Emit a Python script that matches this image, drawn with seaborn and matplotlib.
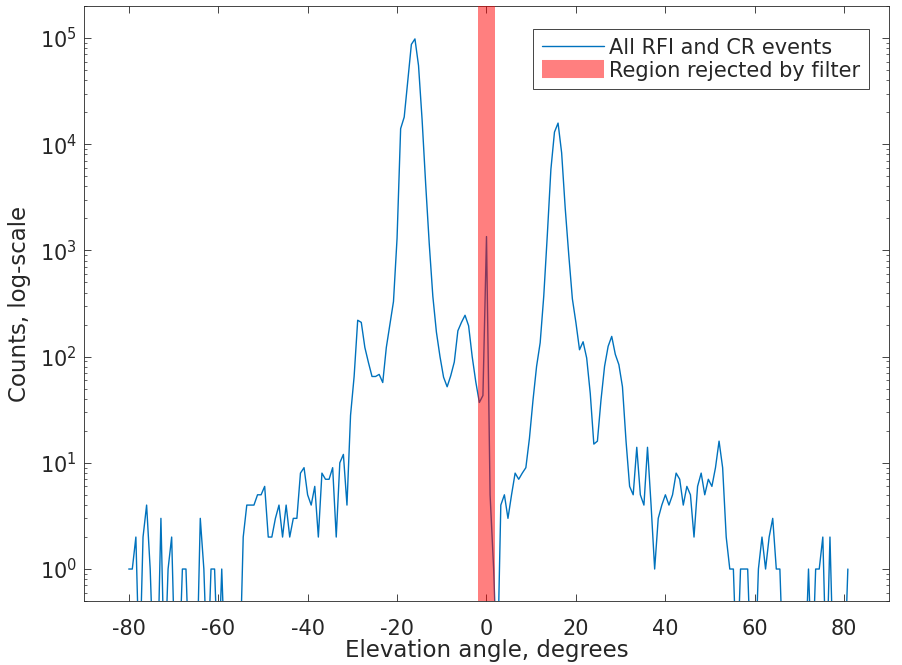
import numpy as np
import pandas as pd
import matplotlib
matplotlib.use("Agg")
import matplotlib.pyplot as plt
from matplotlib.lines import Line2D
import seaborn as sns

# elevation histogram: 0.8 degree bins, first bin at -80 degrees
angle_start = -80.0
angle_step = 0.8
counts = [
    1, 1, 2, 0, 2, 4, 1, 0, 0, 3,
    0, 1, 2, 0, 0, 1, 1, 0, 0, 0,
    3, 1, 0, 1, 1, 0, 1, 0, 0, 0,
    0, 0, 2, 4, 4, 4, 5, 5, 6, 2,
    2, 3, 4, 2, 4, 2, 3, 3, 8, 9,
    5, 4, 6, 2, 8, 7, 7, 9, 2, 10,
    12, 4, 28, 65, 220, 210, 122, 88, 65, 65,
    68, 57, 122, 200, 330, 1300, 14000, 18000, 40000, 87000,
    98000, 55000, 17000, 4200, 1150, 370, 170, 100, 64, 52,
    66, 89, 175, 210, 245, 195, 100, 58, 37, 43,
    1350, 5, 1, 0, 4, 5, 3, 5, 8, 7,
    8, 9, 17, 39, 81, 135, 370, 1400, 5800, 13000,
    15800, 8300, 2500, 900, 350, 208, 116, 138, 97, 45,
    15, 16, 39, 81, 125, 155, 105, 84, 52, 16,
    6, 5, 14, 5, 4, 14, 4, 1, 3, 4,
    5, 4, 5, 8, 7, 4, 6, 5, 2, 6,
    8, 5, 7, 6, 9, 16, 9, 2, 1, 1,
    0, 1, 1, 1, 0, 0, 1, 2, 1, 2,
    3, 1, 1, 0, 0, 0, 0, 0, 0, 0,
    1, 0, 1, 1, 2, 0, 2, 0, 0, 0,
    0, 1,
]
reject_lo, reject_hi = -2, 2
x_ticks = [-80, -60, -40, -20, 0, 20, 40, 60, 80]

line_label = "All RFI and CR events"
band_label = "Region rejected by filter"

df = pd.DataFrame({
    "angle": angle_start + angle_step * np.arange(len(counts)),
    "counts": counts,
})
# empty bins sit below the visible range of the log axis
df["shown"] = df["counts"].where(df["counts"] > 0, 0.1)

sns.set_style("ticks")
plt.rcParams["font.family"] = ["DejaVu Sans"]
plt.rcParams["axes.unicode_minus"] = False

text_col = "#262626"
fig = plt.figure(figsize=(9.03, 6.65), dpi=100)
ax = fig.add_axes([84 / 903, 1 - 601 / 665, (889 - 84) / 903, (601 - 6) / 665])

sns.lineplot(data=df, x="angle", y="shown", ax=ax, color="#0072BD",
             linewidth=1.0, errorbar=None, legend=False)
ax.axvspan(reject_lo, reject_hi, color="red", alpha=0.5, lw=0, zorder=3)

ax.set_yscale("log")
ax.set_xlim(-90, 90)
ax.set_ylim(0.5, 2.0e5)
ax.set_xticks(x_ticks)
ax.set_xticklabels([str(t) for t in x_ticks])

ax.set_xlabel("Elevation angle, degrees", fontsize=16.5, color=text_col)
ax.set_ylabel("Counts, log-scale", fontsize=16.5, color=text_col)
ax.xaxis.set_label_coords(0.5, -0.064)
ax.yaxis.set_label_coords(-0.066, 0.5)
ax.tick_params(axis="both", which="major", direction="in", length=5, width=0.6,
               labelsize=15, colors=text_col, top=True, right=True)
ax.tick_params(axis="x", which="major", pad=13)
ax.tick_params(axis="y", which="major", pad=5)
ax.tick_params(axis="y", which="minor", direction="in", length=2.5, width=0.5,
               right=True)
ax.tick_params(axis="x", which="minor", bottom=False, top=False)
for s in ax.spines.values():
    s.set_linewidth(0.6)
    s.set_color(text_col)
    s.set_visible(True)

handles = [
    Line2D([], [], color="#0072BD", lw=1.0),
    Line2D([], [], color="red", alpha=0.5, lw=13, solid_capstyle="butt"),
]
leg = ax.legend(handles, [line_label, band_label], loc="upper right",
                bbox_to_anchor=(0.975, 0.961), borderaxespad=0, fontsize=15,
                handlelength=3.0, handletextpad=0.25, borderpad=0.4,
                labelspacing=0.15, fancybox=False, framealpha=1,
                edgecolor=text_col)
leg.get_frame().set_linewidth(0.6)

fig.savefig("out.png", dpi=100)
